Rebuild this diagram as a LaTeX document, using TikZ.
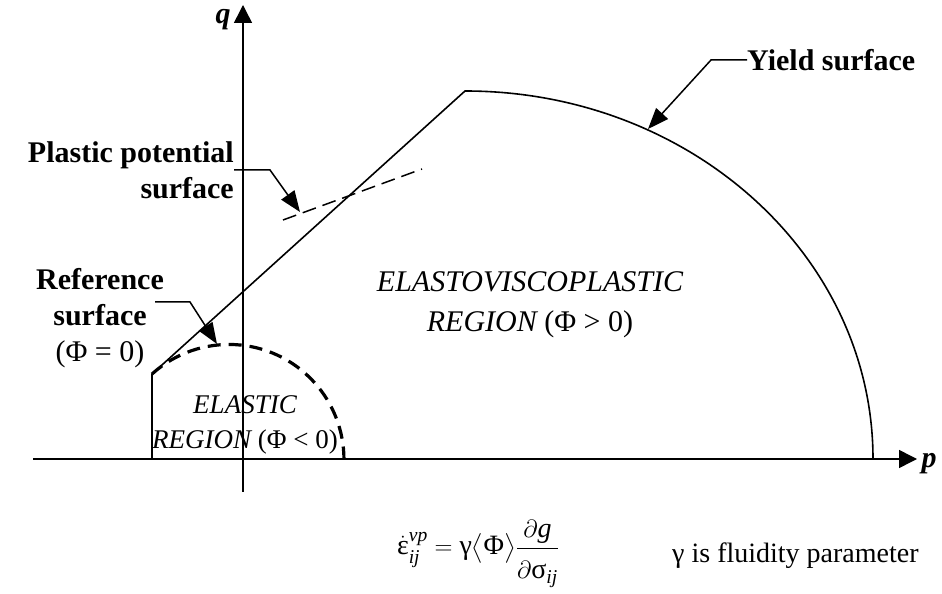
\documentclass[tikz,border=0pt]{standalone}
\usepackage{amsmath}
\usepackage{fontspec}
\setmainfont{Liberation Serif}
\usetikzlibrary{arrows.meta}

\tikzset{
  lbl/.style={font=\fontsize{30}{36}\selectfont\bfseries, inner sep=0pt},
  txt/.style={font=\fontsize{28}{36}\selectfont, inner sep=0pt},
  lead/.style={line width=1.5pt, -{Triangle[length=21pt,width=16pt]}},
  ax/.style={line width=1.5pt, -{Triangle[length=18pt,width=18pt]}}
}

\begin{document}
\begin{tikzpicture}[x=1pt,y=1pt]
\useasboundingbox (0,0) rectangle (942,594);
% axes
\coordinate (pstart) at (33,135);
\coordinate (pend) at (917,135);
\coordinate (qstart) at (243,102);
\coordinate (qend) at (243,589);
\draw[ax] (pstart) -- (pend);
\draw[ax] (qstart) -- (qend);
\node[lbl, font=\fontsize{30}{36}\selectfont\bfseries\itshape] (qlab) at (223,574) {q};
\node[lbl, font=\fontsize{30}{36}\selectfont\bfseries\itshape] (plab) at (929,130) {p};

% yield surface
\coordinate (ybase) at (152,135);
\coordinate (ycorner) at (152,220);
\coordinate (ytop) at (465,503);
\draw[line width=1.6pt] (ybase) -- (ycorner) -- (ytop)
  arc[start angle=90, end angle=0, x radius=408, y radius=368];

% reference surface
\draw[line width=3.2pt, dash pattern=on 13pt off 8pt] (ycorner)
  arc[start angle=132, end angle=0, radius=115];

% plastic potential surface
\coordinate (ppa) at (283,374);
\coordinate (ppb) at (422,425);
\draw[line width=1.5pt, dash pattern=on 14pt off 7pt] (ppa) -- (ppb);

% labels
\node[lbl, align=right, anchor=east] (pplab) at (234,424) {Plastic potential\\surface};
\coordinate (pptip) at (300,382);
\draw[lead] (pplab.east) -- ++(36,0) -- (pptip);

\node[lbl, align=center] (reflab) at (100,276) {Reference\\surface\\\mdseries(Φ = 0)};
\coordinate (refstart) at (155,292);
\coordinate (reftip) at (217,250);
\draw[lead] (refstart) -- ++(35,0) -- (reftip);

\node[lbl, anchor=west] (ylab) at (747,534) {Yield surface};
\coordinate (ytip) at (648,465);
\draw[lead] (ylab.west) -- ++(-36,0) -- (ytip);

\node[txt, align=center, font=\fontsize{30}{40}\selectfont\itshape] (vplab) at (530,289)
  {ELASTOVISCOPLASTIC\\REGION \upshape(Φ > 0)};
\node[txt, align=center, font=\fontsize{27}{35}\selectfont\itshape] (elab) at (245,169)
  {ELASTIC\\REGION \upshape(Φ < 0)};

% flow rule
\node[txt] (rule) at (478,40)
  {$\displaystyle\dot{\text{ε}}^{\textit{vp}}_{\textit{ij}} = \text{γ}\bigl\langle\text{Φ}\bigr\rangle
   \frac{\partial\textit{g}\rule[-7pt]{0pt}{7pt}}{\rule{0pt}{27pt}\partial\text{σ}_{\textit{ij}}}$};
\node[txt, anchor=west] (fluid) at (672,38) {γ is fluidity parameter};
\end{tikzpicture}
\end{document}
